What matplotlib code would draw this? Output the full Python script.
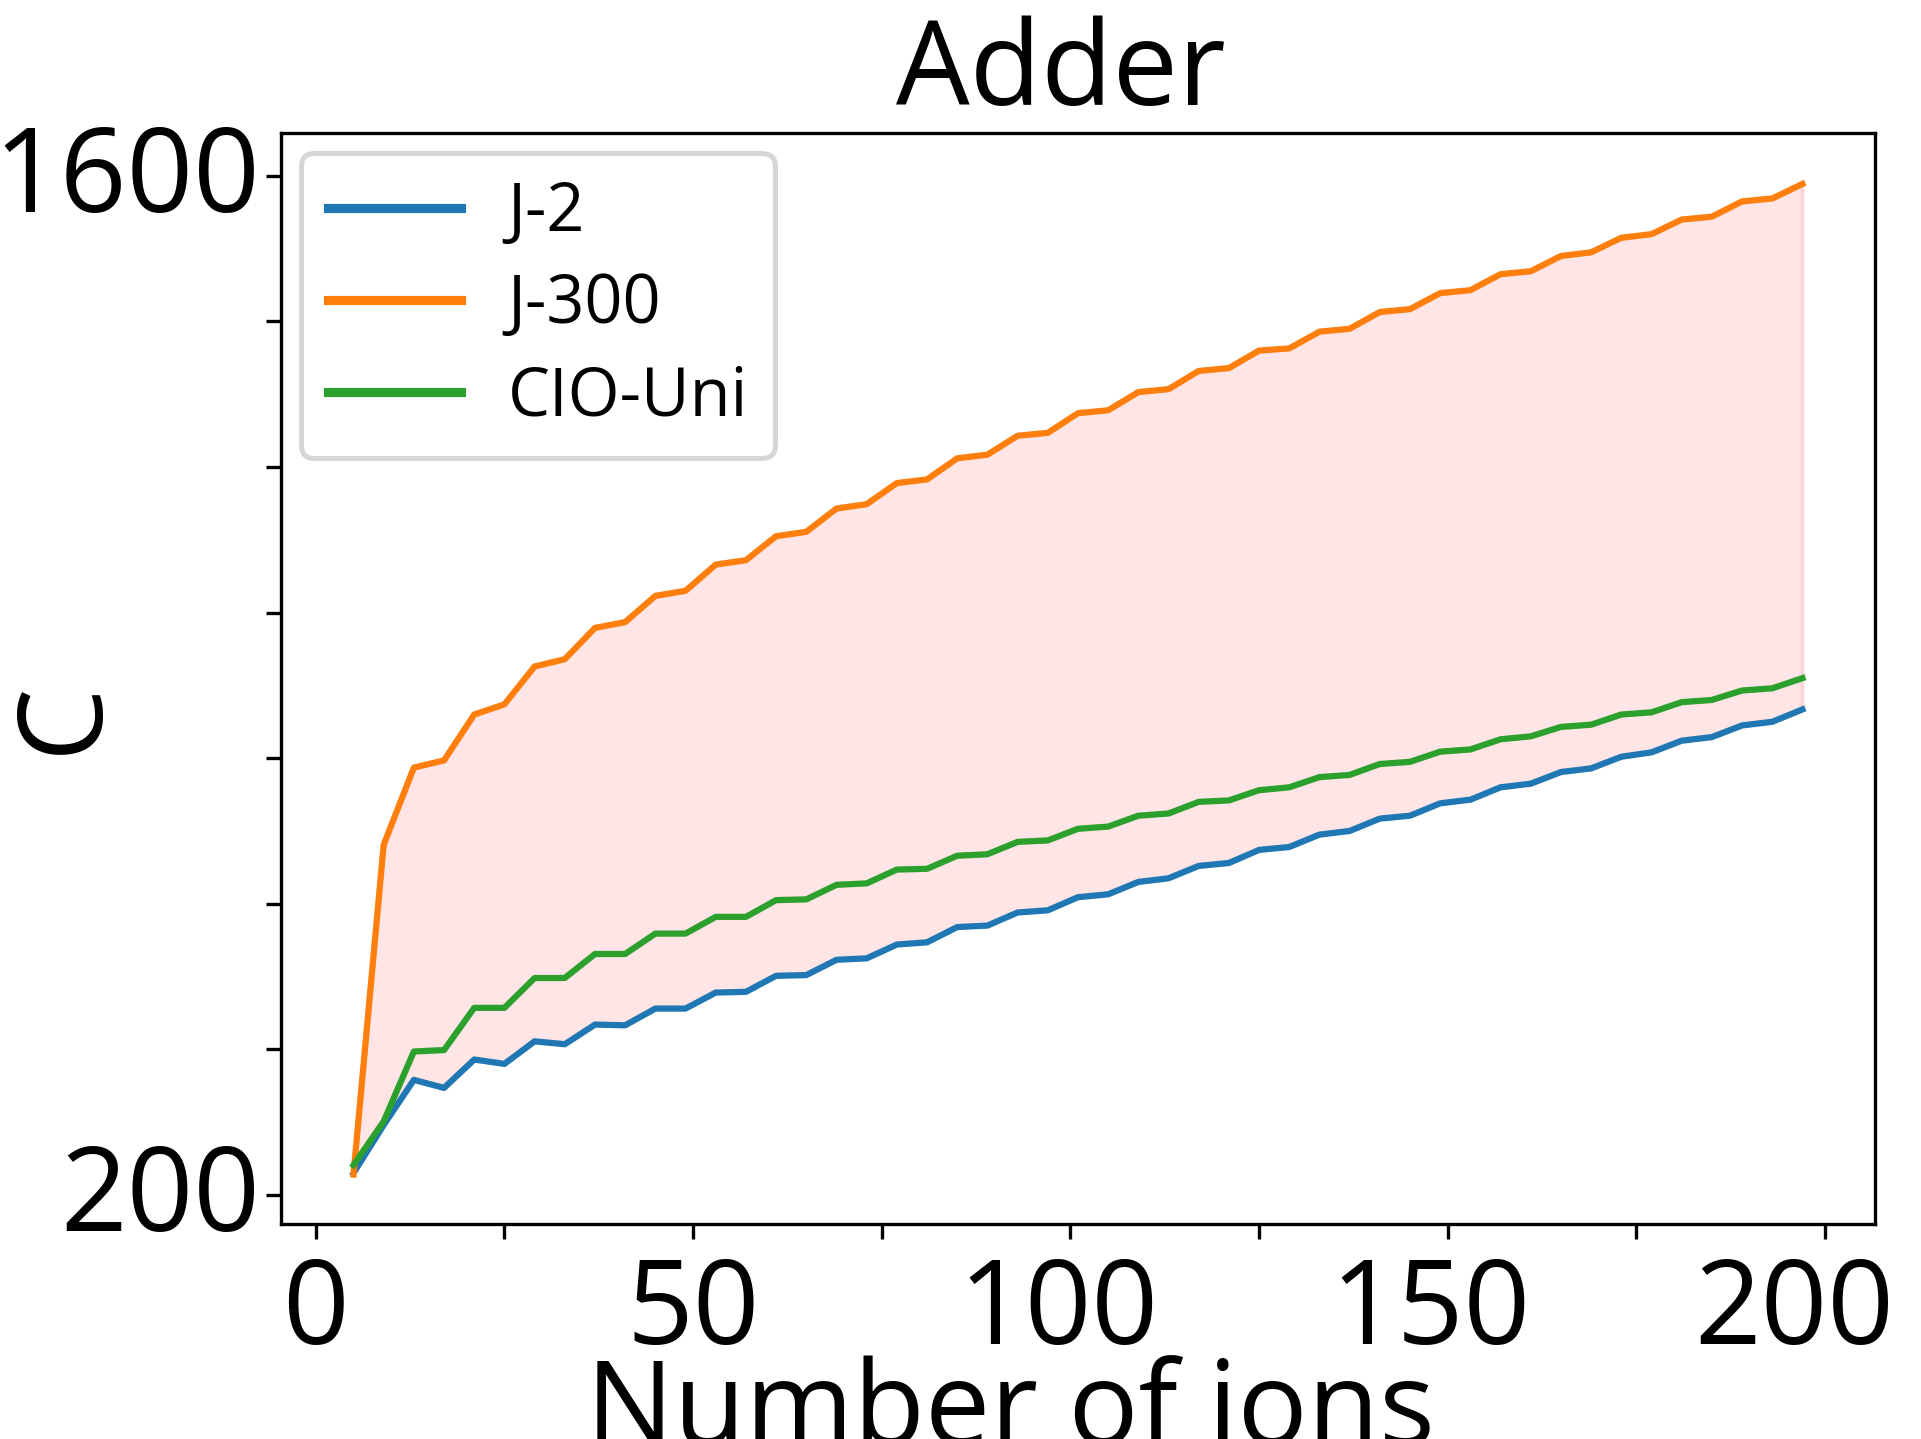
import matplotlib.pyplot as plt
import matplotlib.transforms as mtransforms
import numpy as np

plt.rcParams['font.family'] = ['Open Sans', 'DejaVu Sans']

# number of ions
ions = list(range(5, 198, 4))

j2 = [230, 296, 358, 347, 386, 380, 411, 407, 434, 433, 456, 456, 478, 479,
      501, 502, 523, 525, 544, 547, 568, 570, 588, 591, 609, 613, 630, 635,
      652, 656, 674, 678, 695, 700, 717, 721, 738, 743, 760, 765, 781, 786,
      802, 808, 824, 829, 845, 850, 867]
j300 = [228, 681, 787, 797, 860, 874, 926, 936, 979, 987, 1023, 1030, 1066,
        1072, 1105, 1111, 1143, 1149, 1178, 1183, 1212, 1217, 1243, 1247, 1274,
        1278, 1303, 1307, 1332, 1336, 1360, 1363, 1386, 1390, 1413, 1417, 1439,
        1443, 1465, 1469, 1490, 1495, 1515, 1520, 1540, 1544, 1565, 1569, 1589]
cio_uni = [241, 301, 397, 399, 457, 457, 498, 498, 531, 531, 559, 559, 582,
           582, 605, 606, 626, 628, 647, 648, 666, 668, 685, 687, 703, 706,
           721, 724, 740, 742, 756, 760, 774, 777, 792, 795, 809, 812, 826,
           830, 843, 846, 860, 863, 877, 880, 893, 896, 910]

fig = plt.figure(figsize=(1921/300, 1439/300), dpi=300)
ax = fig.add_axes([0.1463, 0.1494, 0.976 - 0.1463, 0.9076 - 0.1494])

ax.plot(ions, j2, label='J-2')
ax.plot(ions, j300, label='J-300')
ax.plot(ions, cio_uni, label='CIO-Uni')
ax.fill_between(ions, j2, j300, color='red', alpha=0.1)

ax.set_xlim(-4.6, 206.6)
ax.set_ylim(160, 1659)

ax.set_xticks(np.arange(0, 201, 25))
ax.set_xticklabels(['0', '', '50', '', '100', '', '150', '', '200'])
ax.set_yticks(np.arange(200, 1601, 200))
ax.set_yticklabels(['200', '', '', '', '', '', '', '1600'])
ax.tick_params(labelsize=28)
ax.tick_params(axis='x', pad=4)
ax.tick_params(axis='y', pad=1.5)

# small nudges so the labels sit where the reference has them
x_shift = [0, 0, 0, 0, -2.9, 0, -4.1, 0, -7.4]
for lab, dx in zip(ax.get_xticklabels(), x_shift):
    lab.set_transform(lab.get_transform() +
                      mtransforms.ScaledTranslation(dx / 72, 0, fig.dpi_scale_trans))
for lab in ax.get_yticklabels():
    lab.set_transform(lab.get_transform() +
                      mtransforms.ScaledTranslation(0, 2 / 72, fig.dpi_scale_trans))

ax.set_title('Adder', fontsize=28, x=0.4893)
ax.set_xlabel('Number of ions', fontsize=28, labelpad=-4)
ax.xaxis.label.set_x(0.4577)
ax.set_ylabel('C', fontsize=28)
ax.yaxis.set_label_coords(-0.0987, 0.4645)

leg = ax.legend(loc='upper left', fontsize=16, borderaxespad=0.3,
                handletextpad=0.7, labelspacing=0.37)
leg.get_frame().set_linewidth(1.2)
for ln in leg.get_lines():
    ln.set_linewidth(2.2)

plt.savefig('out.png', dpi=300)
plt.close()
